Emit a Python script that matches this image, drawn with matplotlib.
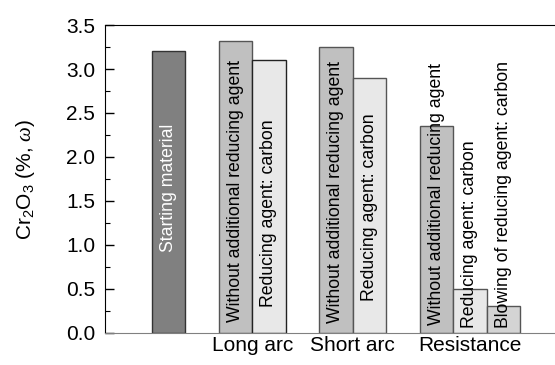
import matplotlib
matplotlib.use("Agg")
import matplotlib.pyplot as plt
from matplotlib.ticker import MultipleLocator, FormatStrFormatter

plt.rcParams['font.family'] = ['Liberation Sans', 'DejaVu Sans']
plt.rcParams['mathtext.fontset'] = 'custom'
plt.rcParams['mathtext.rm'] = 'Liberation Sans'
plt.rcParams['mathtext.it'] = 'Liberation Serif:italic'

# Cr2O3 content by process
bar_labels = [
    "Starting material",
    "Without additional reducing agent",
    "Reducing agent: carbon",
    "Without additional reducing agent",
    "Reducing agent: carbon",
    "Without additional reducing agent",
    "Reducing agent: carbon",
    "Blowing of reducing agent: carbon",
]
values = [3.20, 3.32, 3.10, 3.25, 2.90, 2.35, 0.50, 0.31]
groups = ["Long arc", "Short arc", "Resistance"]

positions = [0, 2, 3, 5, 6, 8, 9, 10]
group_pos = [2.5, 5.5, 9.0]
colors = ["#808080", "#c0c0c0", "#e8e8e8", "#c0c0c0", "#e8e8e8",
          "#c0c0c0", "#e8e8e8", "#d4d4d4"]
edges = ["#333333", "#555555", "#222222", "#555555", "#555555",
         "#555555", "#555555", "#555555"]
text_bottom = [None, 0.13, 0.30, 0.11, 0.36, 0.09, 0.06, 0.06]
text_colors = ["white"] + ["black"] * 7

fig = plt.figure(figsize=(5.55, 3.65), dpi=100)
ax = fig.add_axes([0.189, 0.0877, 0.811, 0.8438])

ax.bar(positions, values, width=1.0, color=colors, edgecolor=edges,
       linewidth=1.0, zorder=2)

for x, v, lab, tb, tc in zip(positions, values, bar_labels, text_bottom, text_colors):
    if tb is None:
        ax.text(x, v / 2 + 0.05, lab, rotation=90, ha='center', va='center',
                fontsize=12.7, color=tc, zorder=3)
    else:
        ax.text(x, tb, lab, rotation=90, ha='center', va='bottom',
                fontsize=12.7, color=tc, zorder=3)

ax.set_xlim(-1.9, 11.54)
ax.set_ylim(0, 3.5)
ax.set_xticks(group_pos)
ax.set_xticklabels(groups, fontsize=15)
ax.tick_params(axis='x', length=0, pad=2)

ax.yaxis.set_major_locator(MultipleLocator(0.5))
ax.yaxis.set_minor_locator(MultipleLocator(0.25))
ax.yaxis.set_major_formatter(FormatStrFormatter('%.1f'))
ax.tick_params(axis='y', which='major', direction='in', length=6.5,
               width=1.0, labelsize=15, pad=7)
ax.tick_params(axis='y', which='minor', direction='in', length=3.6, width=0.8)

ax.spines['right'].set_visible(False)
ax.spines['bottom'].set_color('#808080')
ax.spines['top'].set_color('black')
ax.spines['left'].set_color('black')

ax.set_ylabel(r'Cr$_2$O$_3$ (%, $\mathit{\omega}$)', fontsize=15, labelpad=21)

fig.savefig("out.png", dpi=100)
